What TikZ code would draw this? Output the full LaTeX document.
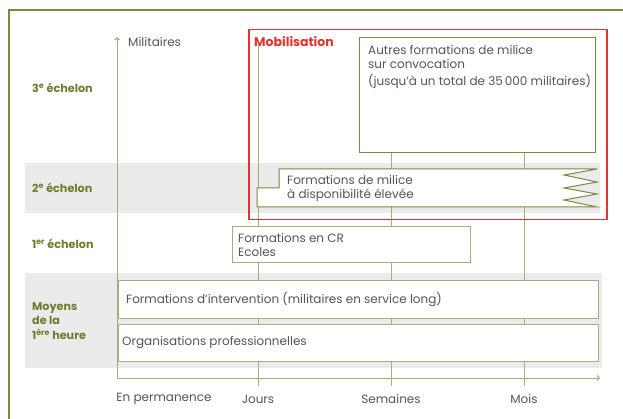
\documentclass[tikz,border=0pt]{standalone}
\usepackage{fontspec}
\setmainfont{Poppins}
\usetikzlibrary{arrows.meta}
\definecolor{olivedark}{HTML}{6E7C2C}
\definecolor{oliveline}{HTML}{7F8740}
\definecolor{olivelight}{HTML}{A9AD7E}
\definecolor{bandgray}{HTML}{EBEBEB}
\definecolor{mobred}{HTML}{E2342F}
\definecolor{txtgray}{HTML}{555555}
\tikzset{
    darkbox/.style={draw=oliveline, line width=1pt, fill=white},
    lightbox/.style={draw=olivelight, line width=1pt, fill=white, inner sep=0pt, anchor=north west},
    timeline/.style={draw=olivelight, line width=1pt},
    boxtext/.style={anchor=west, text=txtgray, font=\fontsize{12}{14}\selectfont, align=left, inner sep=0pt},
    levellabel/.style={anchor=west, text=olivedark, font=\fontsize{11.2}{14.5}\selectfont\bfseries, align=left, inner sep=0pt},
    ticklabel/.style={text=txtgray, font=\fontsize{12}{14}\selectfont, inner sep=0pt}
}

\begin{document}
\begin{tikzpicture}[x=1pt, y=-1pt]
        % Bands, frame, axes and boxes:
        \useasboundingbox (0,0) rectangle (623,419);
        \fill[bandgray] (25,163) rectangle (600,213);
        \fill[bandgray] (25,273) rectangle (602,368);
        \draw[oliveline, line width=1.5pt] (9,419) |- (623,10);
        \coordinate (O) at (117,378);
        \coordinate (Xend) at (600,378);
        \coordinate (Yend) at (117,37);
        \coordinate (J0) at (258,45);
        \coordinate (J1) at (258,386);
        \coordinate (S1) at (391,386);
        \coordinate (M1) at (524,386);
        \node[darkbox, anchor=north west, minimum width=236pt, minimum height=115pt, inner sep=0pt](Nautres) at (359,37){};
        \draw[timeline] (J0) -- (J1);
        \draw[timeline] (Nautres.south -| S1) -- (S1);
        \draw[timeline] (Nautres.south -| M1) -- (M1);
        \draw[timeline, -{Straight Barb[length=2.5pt, width=5pt]}] (O) -- (Xend);
        \draw[timeline, -{Straight Barb[length=2.5pt, width=5pt]}] (O) -- (Yend);
        \draw[darkbox] (257,207) -- (257,188) -- (279,188) -- (279,169) -- (597,169) -- (564,175) -- (597,182) -- (564,188) -- (597,194) -- (564,200) -- (597,207) -- cycle;
        \node[lightbox, minimum width=238pt, minimum height=36pt](Ncr) at (232,226){};
        \node[lightbox, minimum width=480pt, minimum height=38pt](Nint) at (118,280){};
        \node[lightbox, minimum width=480pt, minimum height=37pt](Npro) at (118,324){};
        \node[draw=mobred, line width=1.5pt, anchor=north west, minimum width=358pt, minimum height=190pt, inner sep=0pt](Nmob) at (248,29){};
        % Texts:
        \node[ticklabel, anchor=west](Tmil) at (128,42){Militaires};
        \node[anchor=west, inner sep=0pt, text=mobred, font=\fontsize{12.5}{14}\selectfont\bfseries](Tmob) at (254,42){Mobilisation};
        \node[boxtext](Tautres) at (368,66.5){Autres formations de milice\\sur convocation\\[3pt](jusqu’à un total de 35\,000 militaires)};
        \node[boxtext](Tmilice) at (287,188){Formations de milice\\à disponibilité élevée};
        \node[boxtext](Tcr) at (Ncr.west){\hspace*{6pt}Formations en CR\\\hspace*{6pt}Ecoles};
        \node[boxtext](Tint) at ([xshift=8pt]Nint.west){Formations d’intervention (militaires en service long)};
        \node[boxtext](Tpro) at ([xshift=4pt]Npro.west){Organisations professionnelles};
        \node[levellabel](L3) at (32,88){3\textsuperscript{e} échelon};
        \node[levellabel](L2) at (32,188){2\textsuperscript{e} échelon};
        \node[levellabel](L1) at (32,244){1\textsuperscript{er} échelon};
        \node[levellabel](L0) at (32,321){Moyens\\de la\\1\textsuperscript{ère} heure};
        \node[ticklabel](Tperm) at (164,399){En permanence};
        \node[ticklabel](Tjours) at (J1 |- Tperm){Jours};
        \node[ticklabel](Tsem) at (S1 |- Tperm){Semaines};
        \node[ticklabel](Tmois) at (M1 |- Tperm){Mois};
    \end{tikzpicture}
\end{document}
